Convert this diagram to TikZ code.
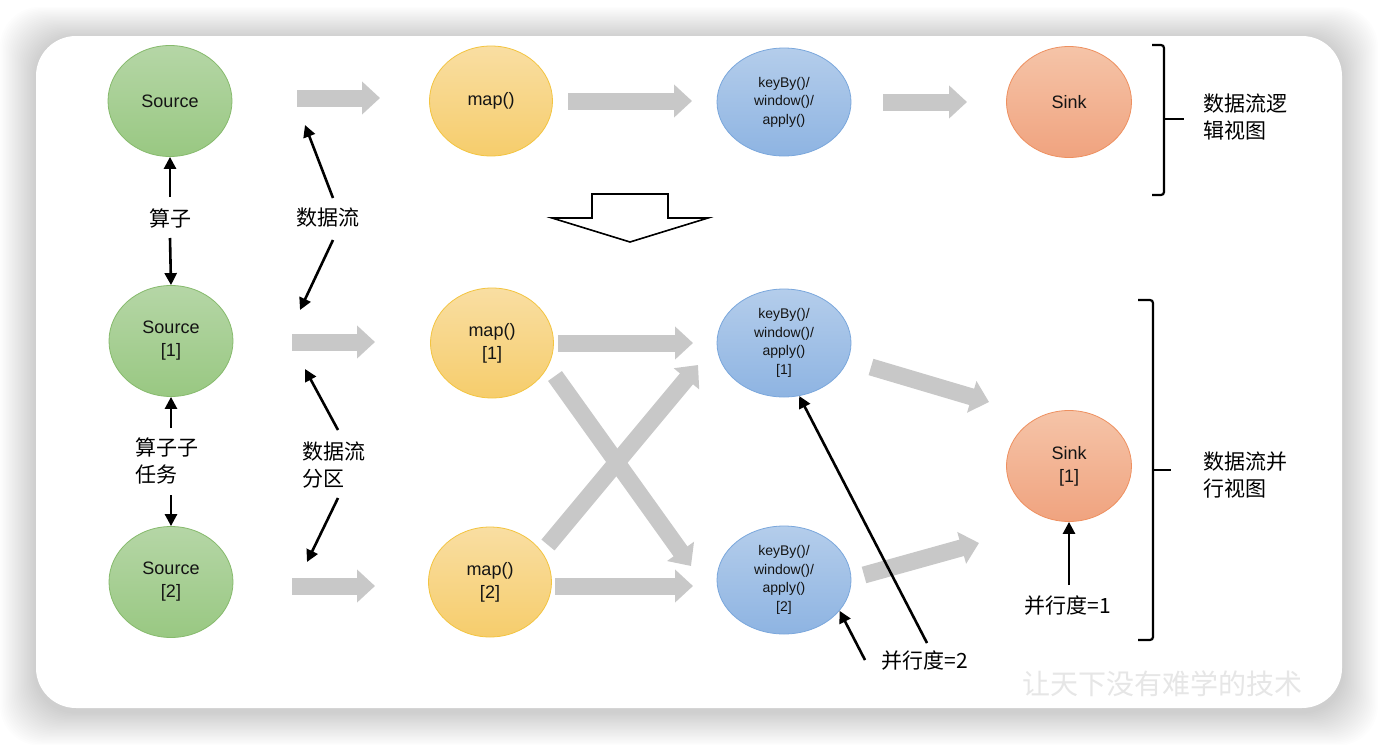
\documentclass[tikz,border=0pt]{standalone}
\usepackage{fontspec}
\setmainfont{Liberation Sans}
\newfontfamily\cjk{Noto Sans CJK SC}
\usetikzlibrary{shapes.geometric,arrows.meta,calc}
\definecolor{grT}{HTML}{B5D6A6}
\definecolor{grB}{HTML}{99C882}
\definecolor{grD}{HTML}{86BA6C}
\definecolor{yeT}{HTML}{F9DEA2}
\definecolor{yeB}{HTML}{F6CD6C}
\definecolor{yeD}{HTML}{F3C440}
\definecolor{blT}{HTML}{B4CDEB}
\definecolor{blB}{HTML}{8EB4E2}
\definecolor{blD}{HTML}{7AA7DC}
\definecolor{orT}{HTML}{F5C4A8}
\definecolor{orB}{HTML}{F0A37F}
\definecolor{orD}{HTML}{EE9060}
\definecolor{blkgray}{HTML}{C8C8C8}
\definecolor{wmark}{HTML}{E6E6E6}
\begin{document}
\begin{tikzpicture}[x=1pt,y=-1pt,
  ell/.style={ellipse, inner sep=0pt, align=center, line width=0.8pt,
    text=black!92, font=\fontsize{18}{23}\selectfont},
  grn/.style={ell, draw=grD, top color=grT, bottom color=grB, minimum width=124pt, minimum height=111pt},
  yel/.style={ell, draw=yeD, top color=yeT, bottom color=yeB, minimum width=123pt, minimum height=110pt},
  blu/.style={ell, draw=blD, top color=blT, bottom color=blB, minimum width=134pt, minimum height=108pt,
    font=\fontsize{14}{18.5}\selectfont},
  org/.style={ell, draw=orD, top color=orT, bottom color=orB, minimum width=125pt, minimum height=111pt},
  blk/.style={line width=17pt, draw=blkgray, -{Triangle[width=32pt,length=18pt]}},
  barr/.style={line width=2.6pt, black, -{Triangle[width=12pt,length=12pt]}},
  lab/.style={font=\cjk\fontsize{21}{26.5}\selectfont, inner sep=0pt, text=black}
]
\useasboundingbox (0,0) rectangle (1378,744);
\fill[white] (0,0) rectangle (1378,744);
% shadow
\foreach \i in {1,...,24}{
  \fill[black, opacity=0.009, rounded corners=40pt] ({36-\i*1.5},{38-\i*1.3}) rectangle ({1342+\i*1.5},{712+\i*1.4});
}
\fill[white, rounded corners=40pt] (36,36) rectangle (1342,708);

% nodes
\node[grn] (src0) at (170,101) {Source};
\node[yel] (map0) at (491,101) {map()};
\node[blu] (kb0) at (784,102) {keyBy()/\\window()/\\apply()};
\node[org] (snk0) at (1069,102) {Sink};

\node[grn] (src1) at (171,341) {Source\\{[1]}};
\node[grn] (src2) at (171,582) {Source\\{[2]}};
\node[yel] (map1) at (492,343) {map()\\{[1]}};
\node[yel] (map2) at (490,582) {map()\\{[2]}};
\node[blu] (kb1) at (784,343) {keyBy()/\\window()/\\apply()\\{[1]}};
\node[blu] (kb2) at (784,580) {keyBy()/\\window()/\\apply()\\{[2]}};
\node[org] (snk1) at (1069,466) {Sink\\{[1]}};

% block arrows
\coordinate (a1s) at (297,98);  \coordinate (a1e) at (380,98);
\coordinate (a2s) at (568,101); \coordinate (a2e) at (692,101);
\coordinate (a3s) at (883,102); \coordinate (a3e) at (967,102);
\coordinate (a4s) at (292,342); \coordinate (a4e) at (375,342);
\coordinate (a5s) at (292,586); \coordinate (a5e) at (375,586);
\coordinate (a6s) at (558,343); \coordinate (a6e) at (693,343);
\coordinate (a7s) at (555,586); \coordinate (a7e) at (693,586);
\coordinate (a8s) at (555,376); \coordinate (a8e) at (691,566);
\coordinate (a9s) at (548,545); \coordinate (a9e) at (698,365);
\coordinate (a10s) at (871,367); \coordinate (a10e) at (989,402);
\coordinate (a11s) at (864,575); \coordinate (a11e) at (979,543);
\foreach \k in {1,...,11}{ \draw[blk] (a\k s) -- (a\k e); }

% hollow arrow
\draw[line width=1.6pt, fill=white, line join=miter] (592,194) -- (668,194) -- (668,218) -- (708,218) -- (630,242) -- (552,218) -- (592,218) -- cycle;

% labels
\node[lab] (l1) at (170,218) {算子};
\node[lab] (l2) at (328,218) {数据流};
\node[lab, anchor=west, align=left] (l3) at (135,461) {算子子\\任务};
\node[lab, anchor=west, align=left] (l4) at (302,465) {数据流\\分区};
\node[lab] (l5) at (925,661) {并行度=2};
\node[lab] (l6) at (1068,606) {并行度=1};
\node[lab, anchor=west, align=left] (l7) at (1203,117) {数据流逻\\辑视图};
\node[lab, anchor=west, align=left] (l8) at (1203,475) {数据流并\\行视图};

% black arrows
\coordinate (t1) at (170,197); \coordinate (t2) at (170,238);
\draw[barr] (t1) -- (src0.south);
\draw[barr] (t2) -- (src1.north);
\coordinate (t3) at (171,428); \coordinate (t4) at (171,495);
\draw[barr] (t3) -- (src1.south);
\draw[barr] (t4) -- (src2.north);
\coordinate (d1s) at (333,198); \coordinate (d1e) at (305,125);
\coordinate (d2s) at (333,240); \coordinate (d2e) at (300,310);
\draw[barr] (d1s) -- (d1e);
\draw[barr] (d2s) -- (d2e);
\coordinate (p1s) at (338,430); \coordinate (p1e) at (305,369);
\coordinate (p2s) at (338,498); \coordinate (p2e) at (307,562);
\draw[barr] (p1s) -- (p1e);
\draw[barr] (p2s) -- (p2e);
\coordinate (q1) at (927,643); \coordinate (q2) at (865,660);
\draw[barr] (q1) -- (kb1.-74);
\draw[barr] (q2) -- (kb2.-29);
\coordinate (q3) at (1069,585);
\draw[barr] (q3) -- (snk1.south);

% braces
\draw[line width=2.2pt, rounded corners=3pt] (1152,45) -- (1164,45) -- (1164,195) -- (1152,195);
\draw[line width=2.2pt] (1164,119) -- (1184,119);
\draw[line width=2.2pt, rounded corners=3pt] (1138,300) -- (1153,300) -- (1153,640) -- (1138,640);
\draw[line width=2.2pt] (1153,470) -- (1171,470);

% watermark
\node[font=\cjk\fontsize{28}{30}\selectfont, text=wmark, inner sep=0pt] (wm) at (1162,684) {让天下没有难学的技术};
\end{tikzpicture}
\end{document}
